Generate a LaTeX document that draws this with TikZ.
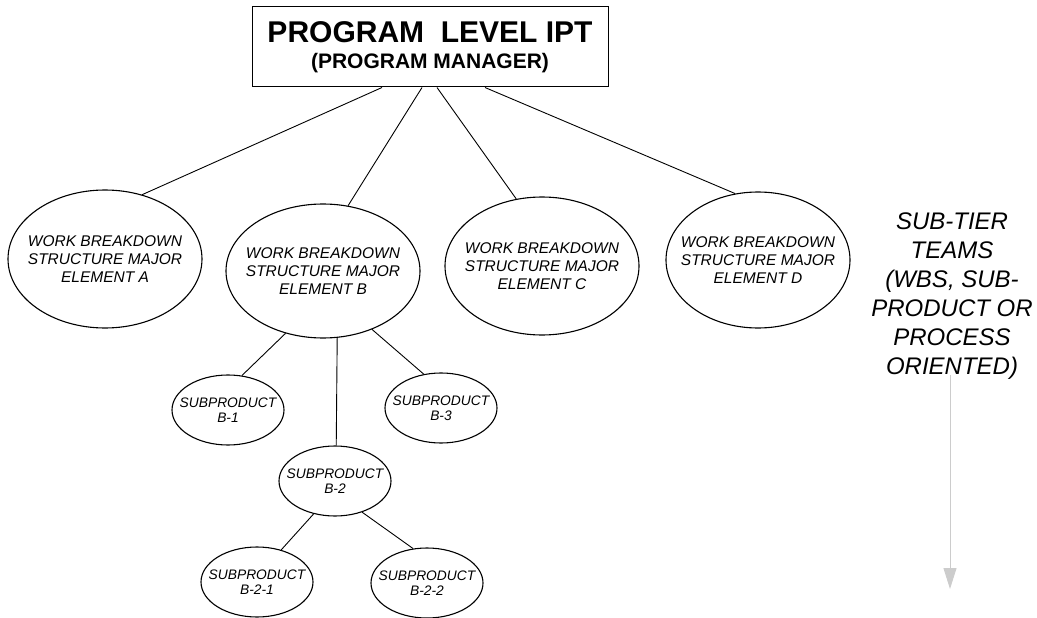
\documentclass[tikz,border=0pt]{standalone}
\usepackage{fontspec}
\setmainfont{Liberation Sans}
\usetikzlibrary{shapes.geometric,arrows.meta,calc}
\begin{document}
\begin{tikzpicture}[x=1pt,y=-1pt,
  conn/.style={line width=0.9pt},
  bigel/.style={ellipse,draw,line width=1.1pt,inner ysep=0pt,inner xsep=-14pt,align=center,
    font=\fontsize{15.5}{18}\selectfont\itshape},
  subel/.style={ellipse,draw,line width=1.1pt,inner ysep=0pt,inner xsep=-12pt,align=center,
    minimum width=112pt,minimum height=70pt,
    font=\fontsize{13.8}{15.5}\selectfont\itshape},
  pmbox/.style={rectangle,draw,line width=1pt,minimum width=356pt,minimum height=80pt,
    inner sep=0pt,align=center,font=\bfseries\fontsize{21}{26}\selectfont},
  sidetext/.style={align=center,inner sep=0pt,font=\fontsize{24}{29}\selectfont\itshape},
  grayarrow/.style={draw=black!20,line width=1pt,-{Triangle[width=13pt,length=21pt,fill=black!20]}}
]
\useasboundingbox (0,0) rectangle (1037,618);

\node[pmbox] (pm) at (430,47)
  {{\fontsize{30}{30}\selectfont PROGRAM\ \ LEVEL IPT}\\(PROGRAM MANAGER)};

\node[bigel,minimum width=194pt,minimum height=138pt] (A) at (105,259)
  {WORK BREAKDOWN\\STRUCTURE MAJOR\\ELEMENT A};
\node[bigel,minimum width=194pt,minimum height=134pt] (B) at (323,271)
  {WORK BREAKDOWN\\STRUCTURE MAJOR\\ELEMENT B};
\node[bigel,minimum width=194pt,minimum height=138pt] (C) at (542,266)
  {WORK BREAKDOWN\\STRUCTURE MAJOR\\ELEMENT C};
\node[bigel,minimum width=184pt,minimum height=136pt] (D) at (758,260)
  {WORK BREAKDOWN\\STRUCTURE MAJOR\\ELEMENT D};

\node[subel] (B1) at (228,410) {SUBPRODUCT\\B-1};
\node[subel] (B3) at (441,408) {SUBPRODUCT\\B-3};
\node[subel] (B2) at (335,481) {SUBPRODUCT\\B-2};
\node[subel] (B21) at (257,582) {SUBPRODUCT\\B-2-1};
\node[subel] (B22) at (427,583) {SUBPRODUCT\\B-2-2};

\node[sidetext,anchor=north] (st) at (952,213)
  {SUB-TIER\\TEAMS\\(WBS, SUB-\\PRODUCT OR\\PROCESS\\ORIENTED)};
\coordinate (tip) at (950,589);

\draw[conn] ([xshift=-48pt]pm.south) -- (A.60);
\draw[conn] ([xshift=-8pt]pm.south) -- (B.69);
\draw[conn] ([xshift=7pt]pm.south) -- (C.111);
\draw[conn] ([xshift=55pt]pm.south) -- (D.109);

\draw[conn] (B.239) -- (B1.68);
\draw[conn] (B.282) -- (B2.88);
\draw[conn] (B.310) -- (B3.117);
\draw[conn] (B2.237) -- (B21.53);
\draw[conn] (B2.311) -- (B22.112);

\draw[grayarrow] ([yshift=5pt]st.south -| tip) -- (tip);
\end{tikzpicture}
\end{document}
